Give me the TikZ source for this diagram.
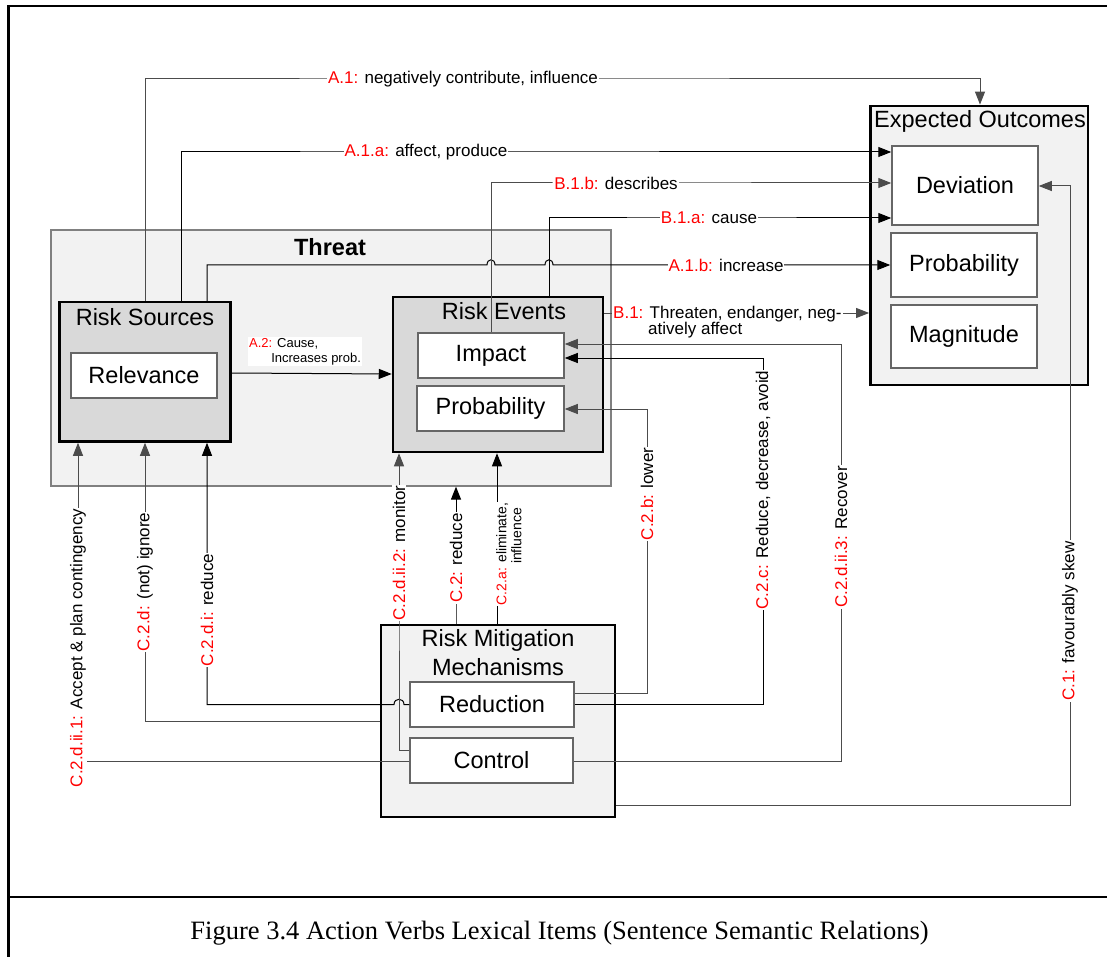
\documentclass[tikz,border=0pt]{standalone}
\usepackage{fontspec}
\setmainfont{Liberation Sans}
\newfontfamily\capfont{Liberation Serif}
\usetikzlibrary{arrows.meta}

\newcommand{\lbred}[1]{\textcolor{red}{#1}}

\begin{document}
\begin{tikzpicture}[x=1pt,y=-1pt,
  threatbox/.style={draw=black!50, line width=1.2pt, fill=black!5},
  groupbox/.style={draw=black, line width=2.8pt, fill=black!5},
  darkbox/.style={draw=black, line width=2.5pt, fill=black!15},
  itembox/.style={draw=black!60, line width=1.5pt, fill=white, inner sep=0pt,
    font=\fontsize{23.5}{28}\selectfont},
  boxtitle/.style={inner sep=0pt, align=center, font=\fontsize{23.5}{29}\selectfont},
  conn/.style={draw=black, line width=1pt},
  conng/.style={draw=black!70, line width=1pt},
  arr/.style={-{Triangle[length=13pt,width=10pt]}},
  lbl/.style={fill=white, inner sep=1pt, font=\fontsize{17}{16}\selectfont},
  vlbl/.style={lbl, rotate=90},
  frameline/.style={draw=black, line width=2.4pt}
]
\useasboundingbox (0,0) rectangle (1107,957);

% page frame and caption rule
\draw[frameline] (8.5,970) -- (8.5,6) -- (1120,6);
\draw[frameline] (8.5,897) -- (1120,897);
\node[font=\capfont\fontsize{26.5}{30}\selectfont] (caption) at (559.5,933.5)
  {Figure 3.4 Action Verbs Lexical Items (Sentence Semantic Relations)};

% Threat group
\node[threatbox, minimum width=560pt, minimum height=256pt] (threat) at (331,358) {};
\node[boxtitle, font=\fontsize{23.5}{28}\selectfont\bfseries] (threattitle) at (330,247) {Threat};

\node[darkbox, minimum width=171pt, minimum height=139.5pt] (rs) at (145,371.75) {};
\node[boxtitle] (rstitle) at (145,317) {Risk Sources};
\node[itembox, minimum width=146pt, minimum height=45pt] (rel) at (144,375.5) {Relevance};

\node[darkbox, minimum width=210pt, minimum height=155pt] (re) at (498,374.5) {};
\node[boxtitle] (retitle) at (504,311) {Risk Events};
\node[itembox, minimum width=146pt, minimum height=45pt] (imp) at (491,355.5) {Impact};
\node[itembox, minimum width=147pt, minimum height=45pt] (reprob) at (490.5,408.5) {Probability};

% Expected outcomes
\node[groupbox, minimum width=217.5pt, minimum height=279pt] (eo) at (979.25,245.5) {};
\node[boxtitle] (eotitle) at (980,121) {Expected Outcomes};
\node[itembox, minimum width=146pt, minimum height=79pt] (dev) at (965,185.5) {Deviation};
\node[itembox, minimum width=146pt, minimum height=64pt] (eoprob) at (964,265) {Probability};
\node[itembox, minimum width=146pt, minimum height=63pt] (mag) at (964,336.5) {Magnitude};

% Risk mitigation mechanisms
\node[groupbox, minimum width=234pt, minimum height=192pt] (rmm) at (498,721) {};
\node[boxtitle] (rmmtitle) at (498,652.5) {Risk Mitigation\\Mechanisms};
\node[itembox, minimum width=164pt, minimum height=45pt] (red) at (492,704.5) {Reduction};
\node[itembox, minimum width=163pt, minimum height=45pt] (ctl) at (491.5,760.5) {Control};

% A relations
\draw[conng, arr] (rs.north) -- (145,79)
  -- (463,79) node[lbl] {\lbred{A.1:} negatively contribute, influence}
  -- (980,79) -- (eo.north -| 980,0);
\draw[conn, arr] (rs.north -| 181,0) -- (181,152)
  -- (426,152) node[lbl] {\lbred{A.1.a:} affect, produce}
  -- (dev.west |- 0,152);
\draw[conn, arr] (rs.north -| 207,0) -- (207,265)
  -- (487,265) .. controls (487,258) and (495,258) .. (495,265)
  -- (545,265) .. controls (545,258) and (553,258) .. (553,265)
  -- (726,265) node[lbl] {\lbred{A.1.b:} increase}
  -- (eoprob.west);
\draw[conn, arr] (rs.east |- 0,373) -- (re.west |- 0,374);
\node[lbl, font=\fontsize{13}{15.5}\selectfont, align=left, anchor=north west] (a2) at (248,337)
  {\lbred{A.2:} Cause,\\\hspace*{1.7em}Increases prob.};

% B relations
\draw[conng, arr] (imp.north -| 491,0) -- (491,183)
  -- (616,183) node[lbl] {\lbred{B.1.b:} describes}
  -- (dev.west |- 0,183);
\draw[conn, arr] (re.north -| 549,0) -- (549,218)
  -- (709,218) node[lbl] {\lbred{B.1.a:} cause}
  -- (dev.west |- 0,218);
\draw[conng, arr] (re.east |- 0,313) -- (eo.west |- 0,313);
\node[lbl, align=left, anchor=north west] (b1) at (612,304.5)
  {\lbred{B.1:} Threaten, endanger, neg-\\\hphantom{B.1:\ }atively affect};

% C relations, left side
\draw[conng, arr] (ctl.west |- 0,761) -- (78,761)
  -- (78,648) node[vlbl] {\lbred{C.2.d.ii.1:} Accept \& plan contingency}
  -- (rs.south -| 78,0);
\draw[conng, arr] (rmm.west |- 0,721) -- (145,721)
  -- (145,582) node[vlbl] {\lbred{C.2.d:} (not) ignore}
  -- (rs.south);
\draw[conn, arr] (red.west) -- (404,704.5)
  .. controls (404,697.5) and (394,697.5) .. (394,704.5)
  -- (207,704.5)
  -- (207,610) node[vlbl] {\lbred{C.2.d.i:} reduce}
  -- (rs.south -| 207,0);
\draw[conng, arr] (ctl.west |- 0,750) -- (399,750)
  -- (399,553) node[vlbl] {\lbred{C.2.d.ii.2:} monitor}
  -- (re.south -| 399,0);
\draw[conn, arr] (rmm.north -| 456,0)
  -- (456,558) node[vlbl] {\lbred{C.2:} reduce}
  -- (threat.south -| 456,0);
\draw[conn, arr] (rmm.north -| 497,0) -- (re.south -| 497,0);
\node[lbl, rotate=90, anchor=north, align=left, font=\fontsize{14}{15}\selectfont] (c2a) at (495,554)
  {\lbred{C.2.a:} eliminate,\\\hphantom{C.2.a:\ }influence};

% C relations, right side
\draw[conng, arr] (red.east |- 0,693) -- (647,693)
  -- (647,494) node[vlbl] {\lbred{C.2.b:} lower}
  -- (647,409) -- (reprob.east |- 0,409);
\draw[conn, arr] (red.east) -- (763,704.5)
  -- (763,490) node[vlbl] {\lbred{C.2.c:} Reduce, decrease, avoid}
  -- (763,358) -- (imp.east |- 0,358);
\draw[conng, arr] (ctl.east |- 0,761) -- (841,761)
  -- (841,537) node[vlbl] {\lbred{C.2.d.ii.3:} Recover}
  -- (841,344) -- (imp.east |- 0,344);
\draw[conng, arr] (rmm.east |- 0,805) -- (1070,805)
  -- (1070,621) node[vlbl] {\lbred{C.1:} favourably skew}
  -- (1070,186) -- (dev.east |- 0,186);
\end{tikzpicture}
\end{document}
